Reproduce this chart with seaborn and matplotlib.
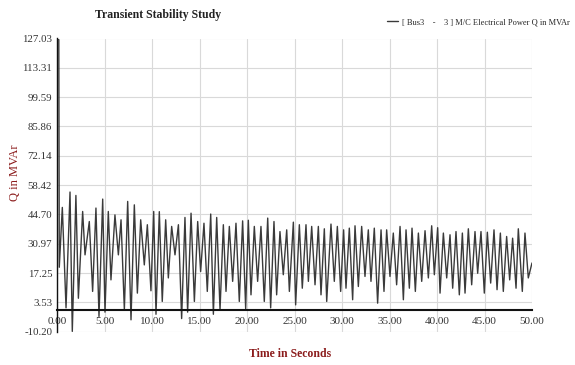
import matplotlib
matplotlib.use("Agg")
import matplotlib.pyplot as plt
import numpy as np
import pandas as pd
import seaborn as sns

# ---- data (extrema of the oscillation) ----
time_s = [0.00, 0.02, 0.19, 0.24,
          0.56, 0.95, 1.37, 1.61, 1.99, 2.25, 2.70, 2.95, 3.40, 3.75,
          4.10, 4.42, 4.81, 5.05, 5.40, 5.68, 6.10, 6.46, 6.74, 7.09,
          7.44, 7.79, 8.14, 8.46, 8.81, 9.19, 9.51, 9.89, 10.18, 10.42,
          10.77, 11.08, 11.44, 11.72, 12.07, 12.42, 12.78, 13.12, 13.47, 13.75,
          14.11, 14.46, 14.81, 15.12, 15.47, 15.82, 16.18, 16.46, 16.81, 17.16,
          17.51, 17.79, 18.14, 18.49, 18.84, 19.19, 19.54, 19.86, 20.14, 20.42,
          20.77, 21.12, 21.47, 21.82, 22.18, 22.49, 22.84, 23.12, 23.47, 23.82,
          24.18, 24.46, 24.88, 25.12, 25.51, 25.82, 26.21, 26.46, 26.81, 27.16,
          27.51, 27.79, 28.14, 28.39, 28.84, 29.19, 29.51, 29.86, 30.17, 30.42,
          30.77, 31.12, 31.37, 31.72, 32.07, 32.42, 32.77, 33.05, 33.40, 33.75,
          34.11, 34.42, 34.70, 35.05, 35.40, 35.75, 36.11, 36.46, 36.74, 37.09,
          37.37, 37.72, 38.04, 38.39, 38.74, 39.09, 39.44, 39.72, 40.07, 40.32,
          40.67, 41.02, 41.37, 41.65, 42.00, 42.35, 42.67, 42.95, 43.30, 43.65,
          44.00, 44.28, 44.63, 44.98, 45.30, 45.65, 46.00, 46.32, 46.67, 46.98,
          47.33, 47.65, 47.96, 48.32, 48.56, 48.98, 49.26, 49.61, 50.00]
q_mvar = [31.0, 127.0, 126.5, 20.0,
          48.0, 1.0, 55.2, -10.0, 53.6, 5.5, 46.1, 25.8, 41.4, 8.7,
          47.7, -3.0, 51.9, -1.0, 46.1, 14.1, 44.5, 25.8, 42.2, 0.1,
          50.8, -4.6, 49.2, 7.9, 42.2, 21.1, 39.9, 9.0, 46.1, -2.0,
          46.0, 4.0, 42.2, 15.0, 39.1, 25.8, 39.9, -4.0, 43.3, -1.0,
          45.3, 4.0, 41.4, 18.0, 40.6, 8.7, 44.9, -2.0, 43.3, 0.0,
          39.9, 8.7, 39.1, 13.4, 40.6, 4.0, 41.7, 0.6, 42.0, 7.1,
          39.1, 13.4, 39.1, 4.0, 43.0, 1.0, 41.4, 7.1, 36.7, 16.5,
          37.5, 8.7, 41.1, 2.4, 39.9, 10.2, 39.9, 13.4, 39.1, 11.8,
          39.1, 7.1, 38.0, 4.0, 40.2, 13.4, 39.1, 8.7, 37.5, 10.2,
          38.3, 4.8, 39.4, 11.0, 39.1, 15.7, 37.5, 13.4, 38.3, 3.2,
          37.5, 8.7, 37.5, 15.7, 36.0, 11.8, 39.1, 4.8, 37.5, 10.2,
          38.3, 8.7, 36.0, 13.4, 37.1, 15.0, 39.4, 16.5, 38.5, 7.9,
          36.0, 15.0, 35.2, 10.2, 36.7, 7.1, 36.0, 7.9, 38.0, 11.8,
          36.7, 17.2, 36.7, 7.9, 36.4, 12.6, 37.5, 9.5, 36.0, 8.7,
          34.4, 14.1, 33.6, 10.2, 38.0, 8.7, 36.0, 15.0, 22.0]

y_ticks = [127.03, 113.31, 99.59, 85.86, 72.14, 58.42, 44.70, 30.97, 17.25, 3.53, -10.20]
y_tick_labels = ["127.03", "113.31", "99.59", "85.86", "72.14", "58.42",
                 "44.70", "30.97", "17.25", "3.53", "-10.20"]
x_ticks = [0, 5, 10, 15, 20, 25, 30, 35, 40, 45, 50]
x_tick_labels = ["0.00", "5.00", "10.00", "15.00", "20.00", "25.00",
                 "30.00", "35.00", "40.00", "45.00", "50.00"]
series_label = "[ Bus3    -    3 ] M/C Electrical Power Q in MVAr"

sns.set_style("white")
plt.rcParams['font.family'] = ['Liberation Serif', 'DejaVu Serif']

fig = plt.figure(figsize=(5.75, 3.65), dpi=100)
ax = fig.add_axes([57 / 575, 1 - 331.8 / 365, 475 / 575, (331.8 - 38.5) / 365])

df = pd.DataFrame({"t": time_s, "q": q_mvar})
sns.lineplot(data=df, x="t", y="q", ax=ax, color="#3a3a3a", lw=1.0,
             estimator=None, sort=False, label=series_label)

ax.set_xlim(0, 50)
ax.set_ylim(-10.20, 127.03)
ax.set_xticks(x_ticks, x_tick_labels)
ax.set_yticks(y_ticks, y_tick_labels)
ax.set_xlabel("")
ax.set_ylabel("")
ax.grid(True, color="#d9d9d9", lw=0.8)
ax.set_axisbelow(True)
for s in ["top", "right"]:
    ax.spines[s].set_visible(False)
ax.spines["bottom"].set_position(("data", 0))
ax.spines["bottom"].set_color("#111111")
ax.spines["bottom"].set_linewidth(1.5)
ax.spines["left"].set_color("#111111")
ax.spines["left"].set_linewidth(1.0)
ax.tick_params(axis="y", length=3, width=0.8, pad=0.5, labelsize=7.8,
               colors="#333333", direction="out")
ax.tick_params(axis="x", length=2, width=0.8, pad=3, labelsize=8,
               colors="#333333", direction="out")

leg = ax.legend(loc="center right", bbox_to_anchor=(570 / 575, 1 - 22 / 365),
                bbox_transform=fig.transFigure, frameon=False, fontsize=6,
                handlelength=1.3, handletextpad=0.5, borderpad=0, borderaxespad=0)

fig.text(158 / 575, 1 - 15 / 365, "Transient Stability Study", ha="center", va="center",
         fontsize=8.5, fontweight="bold", color="#222222")
fig.text(15 / 575, 1 - 173 / 365, "Q in MVAr", ha="center", va="center",
         rotation=90, fontsize=9, color="#8b1c1c")
fig.text(290 / 575, 1 - 354 / 365, "Time in Seconds", ha="center", va="center",
         fontsize=8.5, fontweight="bold", color="#8b1c1c")

fig.savefig("out.png", dpi=100)
